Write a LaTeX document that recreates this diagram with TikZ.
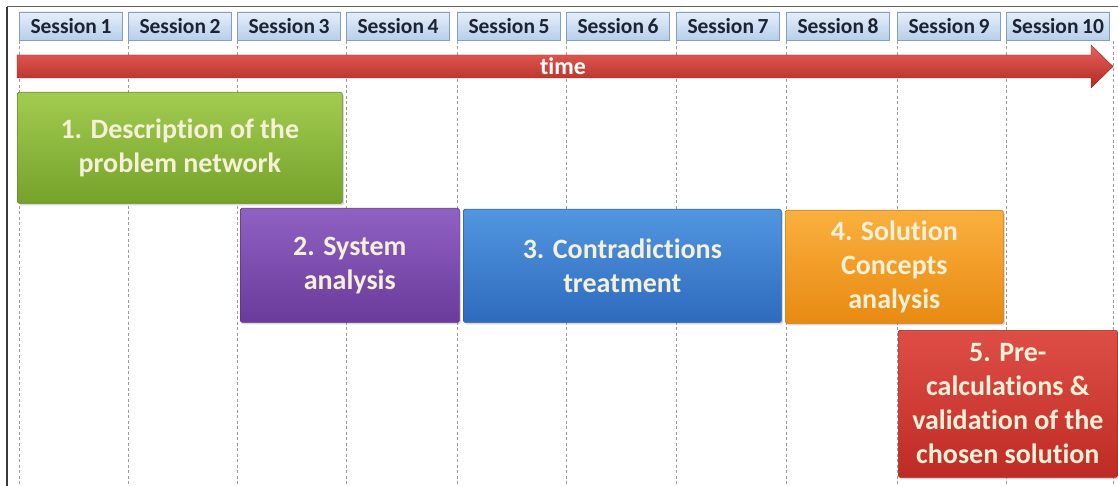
\documentclass[tikz,border=0pt]{standalone}
\usepackage{fontspec}
\setmainfont{Carlito}[Ligatures=NoCommon]
\usetikzlibrary{shadows}
\definecolor{sesstop}{HTML}{E6EFFA}
\definecolor{sessbot}{HTML}{B7CEEA}
\definecolor{sessborder}{HTML}{839FC6}
\definecolor{sesstext}{HTML}{1C2433}
\definecolor{gridc}{HTML}{9A9A9A}
\definecolor{framec}{HTML}{3A3A3A}
\definecolor{arrowlight}{HTML}{E8625A}
\definecolor{arrowdark}{HTML}{B02A25}
\definecolor{boxtext}{HTML}{F5F1D8}
\definecolor{greentop}{HTML}{A2CC50}
\definecolor{greenbot}{HTML}{76A22B}
\definecolor{purpletop}{HTML}{8F61C2}
\definecolor{purplebot}{HTML}{6A3B9A}
\definecolor{bluetop}{HTML}{5296DF}
\definecolor{bluebot}{HTML}{2E6BBE}
\definecolor{orangetop}{HTML}{FAB03E}
\definecolor{orangebot}{HTML}{E88A12}
\definecolor{redtop}{HTML}{DE4E46}
\definecolor{redbot}{HTML}{BE2B25}
\begin{document}
\begin{tikzpicture}[x=1pt,y=-1pt,
  sess/.style={draw=sessborder, line width=0.8pt, top color=sesstop, bottom color=sessbot,
    minimum width=103pt, minimum height=28pt, inner sep=0pt,
    font=\bfseries\fontsize{21.5}{25}\selectfont, text=sesstext},
  phase/.style n args={3}{top color=#1, bottom color=#2, draw=#3, line width=0.6pt,
    rounded corners=1.5pt, inner sep=0pt, align=center, text=boxtext,
    font=\bfseries\fontsize{28}{34}\selectfont, anchor=north west,
    drop shadow={shadow xshift=1.5pt, shadow yshift=-2pt, opacity=0.3}},
  gridline/.style={draw=gridc, line width=0.8pt, dash pattern=on 3pt off 2.5pt},
  timelabel/.style={text=white, font=\bfseries\fontsize{24}{28}\selectfont, inner sep=0pt}
]
\useasboundingbox (0,0) rectangle (1118,486);
\fill[white] (0,0) rectangle (1118,486);
% frame
\draw[framec, line width=1.5pt] (7,486) -- (7,7);
\draw[framec!80, line width=1pt] (7,7) -- (1118,7);
% grid lines
\foreach \x in {19,128,237,346,457,566,676,786,897,1006,1113}
  \draw[gridline] (\x,41) -- (\x,486);
% sessions
\foreach \x [count=\i] in {19,128,237,346,457,566,676,786,897,1006}
  \node[sess] (s\i) at (\x+52,26) {Session\,\i};
% time arrow
\shade[top color=arrowlight, bottom color=arrowdark, draw=arrowdark!85!black, line width=0.4pt]
  (17,55) -- (1091,55) -- (1091,45) -- (1113,66.5) -- (1091,88) -- (1091,78) -- (17,78) -- cycle;
\node[timelabel] (time) at (563,66.5) {time};
% phases
\node[phase={greentop}{greenbot}{greenbot!85!black}, minimum width=325pt, minimum height=111pt]
  (p1) at (17,92) {1. Description of the\\problem network};
\node[phase={purpletop}{purplebot}{purplebot!85!black}, minimum width=219pt, minimum height=114pt]
  (p2) at (240,208) {2. System\\analysis};
\node[phase={bluetop}{bluebot}{bluebot!85!black}, minimum width=318pt, minimum height=113pt]
  (p3) at (463,209) {3. Contradictions\\treatment};
\node[phase={orangetop}{orangebot}{orangebot!85!black}, minimum width=218pt, minimum height=113pt]
  (p4) at (785,210) {4. Solution\\Concepts\\analysis};
\node[phase={redtop}{redbot}{redbot!85!black}, minimum width=219pt, minimum height=147pt]
  (p5) at (898,330) {5. Pre-\\calculations \&\\validation of the\\chosen solution};
\end{tikzpicture}
\end{document}
